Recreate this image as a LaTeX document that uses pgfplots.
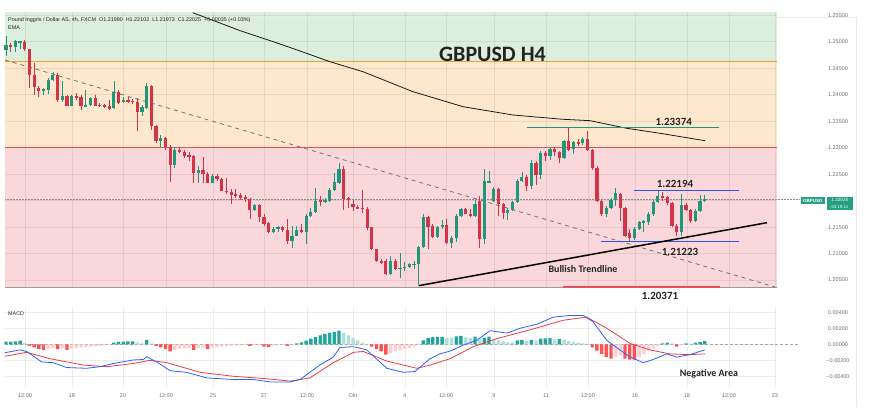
\documentclass[border=0pt]{standalone}
\usepackage{pgfplots}
\pgfplotsset{compat=1.18}
\usepackage{pgfplotstable}
\usepackage{fontspec}
\setmainfont{Liberation Sans}
\newfontfamily\calfont{Carlito}
\definecolor{upc}{RGB}{34,150,122}
\definecolor{dnc}{RGB}{210,52,72}
\definecolor{zg}{RGB}{220,238,221}
\definecolor{zo}{RGB}{254,232,205}
\definecolor{zr}{RGB}{250,215,219}
\definecolor{lorange}{RGB}{240,160,50}
\definecolor{lred}{RGB}{232,80,90}
\definecolor{lteal}{RGB}{30,150,125}
\definecolor{lblue}{RGB}{45,85,230}
\definecolor{hg}{RGB}{38,166,154}
\definecolor{hlg}{RGB}{178,223,219}
\definecolor{hr}{RGB}{255,82,82}
\definecolor{hlr}{RGB}{255,205,210}
\definecolor{macdb}{RGB}{41,98,255}
\definecolor{sigr}{RGB}{235,60,70}
\definecolor{txt}{RGB}{35,35,35}
\definecolor{axt}{RGB}{110,110,110}
\definecolor{tag}{RGB}{38,160,130}

\pgfplotstableread{
i o h l c
1 1.2484 1.2510 1.2472 1.2494
2 1.2494 1.2498 1.2481 1.2489
3 1.2489 1.2503 1.2481 1.2501
4 1.2499 1.2502 1.2486 1.2501
5 1.2499 1.2503 1.2483 1.2486
6 1.2486 1.2487 1.2413 1.2438
7 1.2438 1.2460 1.2400 1.2415
8 1.2413 1.2416 1.2396 1.2407
9 1.2407 1.2413 1.2400 1.2411
10 1.2409 1.2432 1.2401 1.2428
11 1.2428 1.2443 1.2425 1.2438
12 1.2438 1.2441 1.2387 1.2389
13 1.2389 1.2425 1.2387 1.2398
14 1.2398 1.2400 1.2378 1.2379
15 1.2379 1.2400 1.2378 1.2398
16 1.2398 1.2403 1.2390 1.2395
17 1.2395 1.2400 1.2371 1.2379
18 1.2379 1.2409 1.2378 1.2380
19 1.2380 1.2396 1.2378 1.2393
20 1.2393 1.2400 1.2378 1.2379
21 1.2381 1.2384 1.2377 1.2379
22 1.2381 1.2383 1.2374 1.2376
23 1.2378 1.2390 1.2371 1.2373
24 1.2375 1.2425 1.2373 1.2405
25 1.2405 1.2408 1.2383 1.2385
26 1.2386 1.2396 1.2385 1.2390
27 1.2390 1.2395 1.2384 1.2388
28 1.2389 1.2392 1.2383 1.2386
29 1.2387 1.2393 1.2332 1.2367
30 1.2367 1.2381 1.2359 1.2376
31 1.2375 1.2422 1.2373 1.2417
32 1.2417 1.2418 1.2334 1.2341
33 1.2341 1.2343 1.2309 1.2312
34 1.2312 1.2324 1.2302 1.2318
35 1.2318 1.2321 1.2295 1.2302
36 1.2302 1.2306 1.2235 1.2267
37 1.2267 1.2302 1.2262 1.2296
38 1.2296 1.2302 1.2290 1.2292
39 1.2292 1.2296 1.2281 1.2285
40 1.2286 1.2291 1.2274 1.2284
41 1.2284 1.2287 1.2234 1.2252
42 1.2252 1.2265 1.2234 1.2257
43 1.2257 1.2283 1.2234 1.2251
44 1.2251 1.2254 1.2233 1.2234
45 1.2234 1.2250 1.2233 1.2247
46 1.2247 1.2250 1.2237 1.2240
47 1.2240 1.2243 1.2218 1.2219
48 1.2219 1.2243 1.2213 1.2216
49 1.2216 1.2221 1.2194 1.2211
50 1.2212 1.2221 1.2205 1.2208
51 1.2211 1.2214 1.2202 1.2205
52 1.2207 1.2210 1.2197 1.2204
53 1.2204 1.2205 1.2166 1.2183
54 1.2183 1.2194 1.2181 1.2191
55 1.2191 1.2193 1.2160 1.2170
56 1.2170 1.2174 1.2153 1.2155
57 1.2157 1.2159 1.2139 1.2141
58 1.2141 1.2150 1.2139 1.2146
59 1.2146 1.2153 1.2141 1.2150
60 1.2150 1.2153 1.2141 1.2144
61 1.2144 1.2165 1.2118 1.2124
62 1.2124 1.2152 1.2111 1.2134
63 1.2134 1.2153 1.2133 1.2144
64 1.2144 1.2155 1.2138 1.2140
65 1.2140 1.2175 1.2119 1.2171
66 1.2171 1.2187 1.2170 1.2178
67 1.2178 1.2224 1.2176 1.2199
68 1.2201 1.2209 1.2189 1.2197
69 1.2197 1.2205 1.2195 1.2202
70 1.2200 1.2224 1.2198 1.2221
71 1.2220 1.2253 1.2218 1.2236
72 1.2234 1.2271 1.2232 1.2259
73 1.2259 1.2265 1.2182 1.2204
74 1.2205 1.2207 1.2186 1.2201
75 1.2193 1.2202 1.2180 1.2188
76 1.2188 1.2192 1.2184 1.2185
77 1.2186 1.2220 1.2176 1.2185
78 1.2184 1.2188 1.2145 1.2149
79 1.2150 1.2151 1.2106 1.2108
80 1.2108 1.2109 1.2084 1.2086
81 1.2086 1.2090 1.2080 1.2083
82 1.2086 1.2089 1.2060 1.2062
83 1.2062 1.2095 1.2060 1.2086
84 1.2086 1.2089 1.2070 1.2072
85 1.2072 1.2102 1.2055 1.2073
86 1.2073 1.2085 1.2067 1.2075
87 1.2075 1.2083 1.2072 1.2080
88 1.2080 1.2086 1.2072 1.2080
89 1.2080 1.2115 1.2040 1.2112
90 1.2112 1.2174 1.2110 1.2170
91 1.2170 1.2172 1.2108 1.2151
92 1.2152 1.2155 1.2130 1.2132
93 1.2132 1.2152 1.2130 1.2151
94 1.2150 1.2163 1.2147 1.2155
95 1.2155 1.2165 1.2118 1.2121
96 1.2121 1.2134 1.2111 1.2130
97 1.2130 1.2175 1.2121 1.2172
98 1.2172 1.2187 1.2170 1.2184
99 1.2184 1.2187 1.2174 1.2175
100 1.2175 1.2184 1.2169 1.2171
101 1.2171 1.2202 1.2169 1.2193
102 1.2200 1.2208 1.2111 1.2128
103 1.2128 1.2259 1.2118 1.2237
104 1.2234 1.2256 1.2233 1.2238
105 1.2200 1.2225 1.2197 1.2222
106 1.2222 1.2224 1.2172 1.2194
107 1.2194 1.2196 1.2165 1.2177
108 1.2176 1.2186 1.2163 1.2183
109 1.2182 1.2200 1.2180 1.2197
110 1.2197 1.2240 1.2195 1.2237
111 1.2237 1.2254 1.2235 1.2245
112 1.2245 1.2248 1.2218 1.2227
113 1.2227 1.2277 1.2221 1.2271
114 1.2271 1.2274 1.2230 1.2249
115 1.2249 1.2294 1.2240 1.2290
116 1.2290 1.2293 1.2275 1.2285
117 1.2285 1.2300 1.2276 1.2298
118 1.2298 1.2302 1.2285 1.2291
119 1.2291 1.2293 1.2271 1.2281
120 1.2281 1.2315 1.2278 1.2312
121 1.2312 1.2337 1.2293 1.2296
122 1.2297 1.2313 1.2288 1.2311
123 1.2311 1.2316 1.2303 1.2308
124 1.2308 1.2320 1.2305 1.2316
125 1.2316 1.2331 1.2293 1.2296
126 1.2296 1.2298 1.2257 1.2262
127 1.2262 1.2265 1.2198 1.2200
128 1.2200 1.2202 1.2172 1.2174
129 1.2174 1.2190 1.2170 1.2187
130 1.2187 1.2205 1.2185 1.2202
131 1.2202 1.2224 1.2190 1.2215
132 1.2213 1.2215 1.2161 1.2187
133 1.2187 1.2189 1.2131 1.2134
134 1.2138 1.2146 1.2122 1.2130
135 1.2130 1.2150 1.2126 1.2146
136 1.2146 1.2162 1.2144 1.2159
137 1.2157 1.2164 1.2141 1.2162
138 1.2160 1.2178 1.2155 1.2175
139 1.2175 1.2201 1.2172 1.2198
140 1.2198 1.2219 1.2196 1.2209
141 1.2208 1.2217 1.2199 1.2207
142 1.2207 1.2209 1.2192 1.2196
143 1.2196 1.2198 1.2150 1.2153
144 1.2153 1.2156 1.2134 1.2140
145 1.2140 1.2212 1.2134 1.2191
146 1.2191 1.2195 1.2180 1.2183
147 1.2183 1.2185 1.2157 1.2162
148 1.2162 1.2184 1.2159 1.2181
149 1.2181 1.2211 1.2179 1.2200
150 1.2199 1.2210 1.2197 1.2203
}\candles

\pgfplotsset{
  panel/.style={scale only axis, set layers, clip=false,
    xmin=0.787, xmax=165.4, scaled y ticks=false, scaled x ticks=false,
    axis line style={draw=none}, major tick length=0pt, tick style={draw=none},
    xtick={5.05,15.07,25.95,35.11,45.14,56.01,65.18,74.99,86.07,94.82,105.05,116.14,125.09,135.11,146.2,155.15,164.96},
    xmajorgrids, ymajorgrids, grid style={black, opacity=0.07, line width=0.5pt},
    yticklabel pos=right,
    yticklabel style={font=\fontsize{5.5}{6}\selectfont, text=axt, anchor=center, xshift=61pt},
  },
  wick/.style={draw=none, mark=none, forget plot,
    error bars/y dir=both, error bars/y explicit, error bars/error mark=none,
    error bars/error bar style={draw=#1, solid, line width=0.7pt}},
  body/.style={draw=none, mark=none, forget plot,
    error bars/y dir=both, error bars/y explicit, error bars/error mark=none,
    error bars/error bar style={draw=#1, solid, line width=3.2pt}},
  hbar/.style={ybar, bar width=0.72, bar shift=0pt, fill=#1, draw=none, forget plot},
}

\begin{document}
\begin{tikzpicture}[x=1pt,y=1pt]
\path (0,0) rectangle (870,419);
\draw[black!8, line width=0.5pt] (856,12) -- (856,402) -- (4,402);

% ---------------- price panel ----------------
\begin{axis}[panel, at={(5pt,132pt)}, anchor=south west, width=772pt, height=275pt,
  ymin=1.2037, ymax=1.2556, xticklabels={},
  ytick={1.205,1.21,1.215,1.22,1.225,1.23,1.235,1.24,1.245,1.25,1.255},
  yticklabels={1.20500,1.21000,1.21500,{},1.22500,1.23000,1.23500,1.24000,1.24500,1.25000,1.25500},
]
% zones
\addplot[fill=zg, draw=none, on layer=axis background] coordinates {(0.787,1.2462) (165.4,1.2462) (165.4,1.2556) (0.787,1.2556)};
\addplot[fill=zo, draw=none, on layer=axis background] coordinates {(0.787,1.2300) (165.4,1.2300) (165.4,1.2462) (0.787,1.2462)};
\addplot[fill=zr, draw=none, on layer=axis background] coordinates {(0.787,1.2037) (165.4,1.2037) (165.4,1.2300) (0.787,1.2300)};
\addplot[lorange, line width=1pt] coordinates {(0.787,1.2462) (165.4,1.2462)};
\addplot[lred, line width=1pt] coordinates {(0.787,1.2300) (165.4,1.2300)};
\addplot[black!40, line width=0.6pt] coordinates {(0.787,1.2037) (165.4,1.2037)};
% last price line
\addplot[black!45, densely dotted, line width=0.5pt] coordinates {(0.787,1.22025) (170.3,1.22025)};
% downtrend dashed
\addplot[black!55, dash pattern=on 4pt off 4pt, line width=0.8pt] coordinates {(0.79,1.24654) (164.96,1.2037)};
% EMA
\addplot[black!90, line width=0.8pt] coordinates {(40.81,1.25547) (50.89,1.25209) (59.42,1.24956) (63.69,1.24824) (70.08,1.24622) (77.12,1.24433) (87.78,1.24056) (98.44,1.23773) (109.1,1.23616) (119.76,1.23535) (125.52,1.23509) (133.35,1.23365) (140.45,1.23271) (150.04,1.23131)};
% candles
\addplot[restrict expr to domain={\thisrow{c}-\thisrow{o}}{0:1}, wick=upc]
  table[x=i, y expr={(\thisrow{h}+\thisrow{l})/2}, y error expr={(\thisrow{h}-\thisrow{l})/2}] {\candles};
\addplot[restrict expr to domain={\thisrow{c}-\thisrow{o}}{-1:-0.00001}, wick=dnc]
  table[x=i, y expr={(\thisrow{h}+\thisrow{l})/2}, y error expr={(\thisrow{h}-\thisrow{l})/2}] {\candles};
\addplot[restrict expr to domain={\thisrow{c}-\thisrow{o}}{0:1}, body=upc]
  table[x=i, y expr={(\thisrow{o}+\thisrow{c})/2}, y error expr={max(abs(\thisrow{c}-\thisrow{o})/2,0.00004)}] {\candles};
\addplot[restrict expr to domain={\thisrow{c}-\thisrow{o}}{-1:-0.00001}, body=dnc]
  table[x=i, y expr={(\thisrow{o}+\thisrow{c})/2}, y error expr={max(abs(\thisrow{c}-\thisrow{o})/2,0.00004)}] {\candles};
% levels
\addplot[lteal, line width=1pt] coordinates {(112.0,1.23374) (153.1,1.23374)};
\addplot[lblue, line width=1pt] coordinates {(134.9,1.22194) (157.3,1.22194)};
\addplot[lblue, line width=1pt] coordinates {(127.8,1.21223) (157.3,1.21223)};
\addplot[lred, line width=1.4pt] coordinates {(119.8,1.20371) (153.3,1.20371)};
% bullish trendline
\addplot[black, line width=1.5pt] coordinates {(89.0,1.20395) (163.26,1.21584)};
\end{axis}

% ---------------- MACD panel ----------------
\begin{axis}[panel, at={(5pt,31pt)}, anchor=south west, width=772pt, height=81pt,
  ymin=-0.00546, ymax=0.00466,
  ytick={-0.004,-0.002,0,0.002,0.004},
  yticklabels={−0.00400,−0.00200,0.00000,0.00200,0.00400},
  xticklabels={12:00,18,20,12:00,25,27,12:00,Okt,4,12:00,9,11,12:00,16,18,12:00,23},
  xticklabel style={font=\fontsize{5.5}{6}\selectfont, text=axt, anchor=center, yshift=-8pt},
]
\addplot[black!35, dash pattern=on 3pt off 2pt, line width=0.5pt] coordinates {(0.787,0) (170.3,0)};
\addplot[hbar=hg] coordinates {(1,0.00033)(2,0.00033)(3,0.00035)(4,0.00045)(24,0.0002)(25,0.0003)(26,0.00033)(27,0.00035)(28,0.00035)(31,0.00055)(63,0.0001)(64,0.00025)(65,0.00045)(66,0.0007)(67,0.0009)(68,0.0011)(69,0.0013)(70,0.00145)(71,0.00155)(72,0.0017)(90,0.0005)(91,0.0008)(92,0.0009)(93,0.0009)(94,0.00092)(97,0.001)(98,0.00105)(101,0.00095)(103,0.0008)(104,0.00095)(110,0.0005)(111,0.00055)(113,0.00055)(115,0.0007)(116,0.00075)(117,0.00078)(119,0.00065)(141,0.0001)(142,0.0002)(146,0.0001)(148,0.0002)(149,0.0003)(150,0.0004)};
\addplot[hbar=hlg] coordinates {(5,0.00015)(29,0.00025)(30,0.00012)(32,0.0001)(73,0.0014)(74,0.0011)(75,0.0008)(76,0.0005)(77,0.0002)(78,0.00005)(95,0.0008)(96,0.00078)(99,0.00085)(100,0.0008)(102,0.00075)(105,0.0007)(106,0.0005)(107,0.00035)(108,0.00025)(109,0.0002)(112,0.0004)(114,0.0005)(118,0.0006)(120,0.00055)(121,0.0004)(122,0.0003)(123,0.0002)(124,0.00012)(125,0.00005)(143,0.0001)(147,0.00008)};
\addplot[hbar=hr] coordinates {(6,-0.0002)(7,-0.0004)(8,-0.0006)(9,-0.0007)(12,-0.0006)(14,-0.0007)(33,-0.0002)(34,-0.0004)(35,-0.0006)(36,-0.0009)(41,-0.0007)(44,-0.0006)(53,-0.0002)(56,-0.0003)(57,-0.00032)(61,-0.0002)(79,-0.0003)(80,-0.0006)(81,-0.0009)(82,-0.0013)(126,-0.0004)(127,-0.0008)(128,-0.0012)(129,-0.0016)(130,-0.0018)(133,-0.0018)(134,-0.0019)(135,-0.0019)(144,-0.0003)};
\addplot[hbar=hlr] coordinates {(10,-0.0006)(11,-0.0005)(13,-0.0005)(15,-0.00055)(16,-0.00045)(17,-0.0004)(18,-0.00035)(19,-0.0003)(20,-0.00025)(21,-0.0002)(22,-0.00012)(23,-0.00005)(37,-0.0007)(38,-0.0006)(39,-0.0005)(40,-0.00045)(42,-0.00045)(43,-0.0004)(45,-0.0004)(46,-0.00035)(47,-0.0003)(48,-0.00025)(49,-0.0002)(50,-0.00015)(51,-0.00012)(52,-0.0001)(54,-0.00012)(55,-0.0001)(58,-0.00015)(59,-0.0001)(60,-0.00008)(62,-0.00005)(83,-0.0011)(84,-0.0009)(85,-0.00075)(86,-0.0006)(87,-0.00045)(88,-0.0003)(89,-0.00015)(131,-0.0016)(132,-0.0014)(136,-0.0016)(137,-0.0012)(138,-0.0008)(139,-0.0005)(140,-0.0002)(145,-0.0001)};
% signal
\addplot[sigr, line width=0.8pt] coordinates {(0.79,-0.0015)(5.4,-0.0010)(10.4,-0.0018)(17.5,-0.0026)(22.5,-0.0028)(28.1,-0.0024)(31.7,-0.0020)(35.3,-0.0023)(42.4,-0.0035)(49.5,-0.0040)(56.6,-0.0043)(61.6,-0.0046)(65.8,-0.0042)(70.8,-0.0023)(75.1,-0.0010)(77.2,-0.0009)(82.2,-0.0021)(88.6,-0.0030)(91.4,-0.0026)(95.7,-0.0018)(100.6,-0.0003)(105.6,0.0007)(112.7,0.0018)(119.8,0.0030)(124.8,0.0034)(129.1,0.0020)(134.1,0.0001)(138.3,-0.0007)(142.6,-0.0012)(146.8,-0.0013)(150.0,-0.0012)};
% MACD
\addplot[macdb, line width=0.8pt] coordinates {(0.79,-0.00105)(4.0,-0.0007)(5.4,-0.0009)(6.8,-0.00146)(8.6,-0.0022)(11.1,-0.0023)(13.9,-0.0029)(18.2,-0.0030)(21.0,-0.0028)(23.9,-0.0024)(28.1,-0.00196)(30.3,-0.0019)(31.0,-0.00155)(33.1,-0.0022)(36.0,-0.0033)(39.5,-0.0035)(43.8,-0.0042)(49.5,-0.0044)(53.7,-0.0044)(57.3,-0.0047)(61.6,-0.0047)(63.7,-0.0044)(67.9,-0.0026)(70.8,-0.0016)(72.2,-0.0004)(75.1,-0.0003)(77.9,-0.0007)(82.2,-0.0030)(85.7,-0.0035)(88.2,-0.0034)(91.4,-0.0018)(93.5,-0.0012)(95.7,-0.00085)(98.5,-0.0001)(101.4,0.0005)(104.2,0.0017)(107.8,0.0014)(110.6,0.0020)(114.2,0.0025)(117.7,0.0034)(121.3,0.0036)(124.1,0.0036)(126.2,0.0028)(129.1,0.0005)(131.9,-0.0007)(134.1,-0.0016)(136.9,-0.0023)(139.0,-0.0019)(141.9,-0.0012)(144.0,-0.0016)(146.8,-0.0013)(150.0,-0.0007)};
\end{axis}

% ---------------- texts ----------------
\node[anchor=west, font=\fontsize{5.4}{6}\selectfont, text=txt, inner sep=0] at (8,399)
  {Pound Inggris / Dollar AS, 4h, FXCM\ \ O1.21990\ \ H1.22102\ \ L1.21973\ \ C1.22025\ \ +0.00035 (+0.03\%)};
\node[anchor=west, font=\fontsize{5.4}{6}\selectfont, text=txt, inner sep=0] at (8,391) {EMA};
\node[anchor=west, font=\fontsize{5.4}{6}\selectfont, text=txt, inner sep=0] at (8,105) {MACD};
\node[font=\calfont\bfseries\fontsize{22}{24}\selectfont, text=txt] at (492.5,365) {GBPUSD H4};
\node[font=\calfont\bfseries\fontsize{11}{12}\selectfont, text=txt] at (673.7,297.3) {1.23374};
\node[font=\calfont\bfseries\fontsize{11}{12}\selectfont, text=txt] at (675,234.7) {1.22194};
\node[font=\calfont\bfseries\fontsize{11}{12}\selectfont, text=txt] at (680,167.3) {1.21223};
\node[font=\calfont\bfseries\fontsize{11}{12}\selectfont, text=txt] at (660,123.3) {1.20371};
\node[font=\calfont\bfseries\fontsize{10}{12}\selectfont, text=txt] at (583,149.7) {Bullish Trendline};
\node[font=\calfont\bfseries\fontsize{10}{12}\selectfont, text=txt] at (709,45) {Negative Area};
% price tag
\fill[tag] (800.7,214.8) rectangle (825,221.8);
\node[font=\fontsize{4.5}{5}\selectfont\bfseries, text=white, inner sep=0] at (812.8,218.3) {GBPUSD};
\fill[tag] (826.7,208.5) rectangle (853,222.3);
\node[font=\fontsize{4.6}{5}\selectfont, text=white, inner sep=0] at (839.8,218.7) {1.22025};
\node[font=\fontsize{4.2}{5}\selectfont, text=white, inner sep=0] at (839.8,212.2) {03:19:14};
\end{tikzpicture}
\end{document}
